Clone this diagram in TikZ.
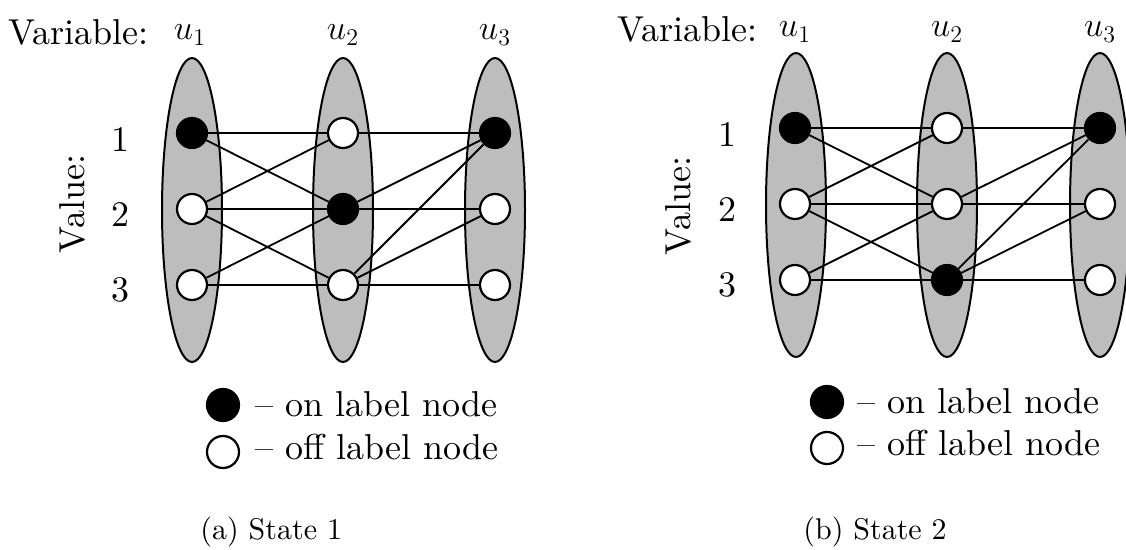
\documentclass[tikz,border=0pt]{standalone}
\usepackage{fontspec}
\setmainfont{lmroman10-regular.otf}[ItalicFont=lmroman10-italic.otf]
\usetikzlibrary{shapes.geometric}
\tikzset{
  varset/.style={ellipse, draw=black, fill=gray!52, line width=1pt, minimum width=30pt, minimum height=152pt, inner sep=0pt},
  onval/.style={circle, draw=black, fill=black, line width=1.1pt, minimum size=15pt, inner sep=0pt},
  offval/.style={circle, draw=black, fill=white, line width=1.1pt, minimum size=15pt, inner sep=0pt},
  link/.style={line width=0.9pt},
  lbl/.style={font=\fontsize{18}{21}\selectfont, inner sep=0pt},
  subcap/.style={font=\fontsize{15}{18}\selectfont, inner sep=0pt}
}

\begin{document}
\begin{tikzpicture}[x=0.5pt, y=-0.5pt]
  \useasboundingbox (0,0) rectangle (1126,550);
  % (a) state 1
  \node[varset] (sa1) at (192,210) {};
  \node[varset] (sa2) at (343,210) {};
  \node[varset] (sa3) at (495,210) {};
  \node[onval] (a11) at (192,133) {};
  \node[offval] (a12) at (192,209) {};
  \node[offval] (a13) at (192,285) {};
  \node[offval] (a21) at (343,133) {};
  \node[onval] (a22) at (343,209) {};
  \node[offval] (a23) at (343,285) {};
  \node[onval] (a31) at (495,133) {};
  \node[offval] (a32) at (495,209) {};
  \node[offval] (a33) at (495,285) {};
  \foreach \i/\j in {1/1,1/2,2/1,2/2,2/3,3/2,3/3} \draw[link] (a1\i) -- (a2\j);
  \foreach \i/\j in {1/1,2/1,2/2,3/1,3/2,3/3} \draw[link] (a2\i) -- (a3\j);
  \node[lbl, anchor=base west] (vara) at (8,45) {Variable:};
  \node[lbl, anchor=base] (ua1) at (190,40) {$u_1$};
  \node[lbl, anchor=base] (ua2) at (343,40) {$u_2$};
  \node[lbl, anchor=base] (ua3) at (495,40) {$u_3$};
  \node[lbl, rotate=90] (vala) at (72,204) {Value:};
  \node[lbl] (na1) at (121,140) {1};
  \node[lbl] (na2) at (121,215) {2};
  \node[lbl] (na3) at (121,290) {3};
  \node[onval, minimum size=16pt] (keyaon) at (223,405) {};
  \node[offval, minimum size=16pt] (keyaoff) at (223,452) {};
  \node[lbl, anchor=base west] (txtaon) at (255,417) {-- on label node};
  \node[lbl, anchor=base west] (txtaoff) at (255,460) {-- off label node};
  \node[subcap, anchor=base west] (capa) at (200,540) {(a) State 1};
  % (b) state 2
  \node[varset] (sb1) at (796,205) {};
  \node[varset] (sb2) at (947,205) {};
  \node[varset] (sb3) at (1100,205) {};
  \node[onval] (b11) at (795,128) {};
  \node[offval] (b12) at (795,204) {};
  \node[offval] (b13) at (795,280) {};
  \node[offval] (b21) at (947,128) {};
  \node[offval] (b22) at (947,204) {};
  \node[onval] (b23) at (947,280) {};
  \node[onval] (b31) at (1100,128) {};
  \node[offval] (b32) at (1100,204) {};
  \node[offval] (b33) at (1100,280) {};
  \foreach \i/\j in {1/1,1/2,2/1,2/2,2/3,3/2,3/3} \draw[link] (b1\i) -- (b2\j);
  \foreach \i/\j in {1/1,2/1,2/2,3/1,3/2,3/3} \draw[link] (b2\i) -- (b3\j);
  \node[lbl, anchor=base west] (varb) at (617,42) {Variable:};
  \node[lbl, anchor=base] (ub1) at (795,37) {$u_1$};
  \node[lbl, anchor=base] (ub2) at (947,37) {$u_2$};
  \node[lbl, anchor=base] (ub3) at (1100,37) {$u_3$};
  \node[lbl, rotate=90] (valb) at (678,206) {Value:};
  \node[lbl] (nb1) at (727,135) {1};
  \node[lbl] (nb2) at (727,210) {2};
  \node[lbl] (nb3) at (727,285) {3};
  \node[onval, minimum size=16pt] (keybon) at (827,402) {};
  \node[offval, minimum size=16pt] (keyboff) at (827,448) {};
  \node[lbl, anchor=base west] (txtbon) at (857,414) {-- on label node};
  \node[lbl, anchor=base west] (txtboff) at (857,456) {-- off label node};
  \node[subcap, anchor=base west] (capb) at (803,540) {(b) State 2};
\end{tikzpicture}
\end{document}
